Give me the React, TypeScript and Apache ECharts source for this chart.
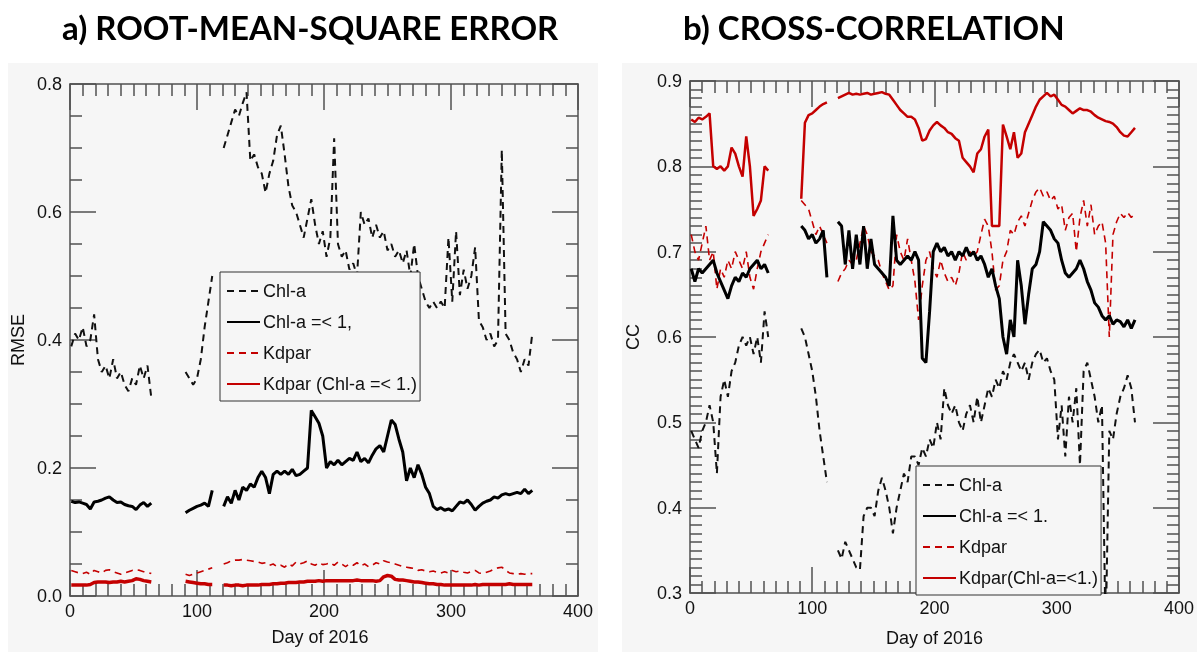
import React, { useEffect, useRef } from "react";
import * as echarts from "echarts";

// Day-of-year sample positions for the three data segments
const seg1Days = [1, 4, 7, 10, 13, 16, 19, 22, 25, 28, 31, 34, 37, 40, 43, 46, 49, 52, 55, 58, 61, 64];
const seg2Days = [91, 94, 97, 100, 103, 106, 109, 112];
const seg3Days = [
  121, 124, 127, 130, 133, 136, 139, 142, 145, 148,
  151, 154, 157, 160, 163, 166, 169, 172, 175, 178,
  181, 184, 187, 190, 193, 196, 199, 202, 205, 208,
  211, 214, 217, 220, 223, 226, 229, 232, 235, 238,
  241, 244, 247, 250, 253, 256, 259, 262, 265, 268,
  271, 274, 277, 280, 283, 286, 289, 292, 295, 298,
  301, 304, 307, 310, 313, 316, 319, 322, 325, 328,
  331, 334, 337, 340, 343, 346, 349, 352, 355, 358,
  361, 364,
];

// ---- a) RMSE ----
const rmseChlA1 = [0.39, 0.41, 0.40, 0.42, 0.39, 0.40, 0.44, 0.37, 0.35, 0.36, 0.34, 0.37, 0.34, 0.35, 0.33, 0.32, 0.34, 0.33, 0.36, 0.34, 0.36, 0.31];
const rmseChlA2 = [0.35, 0.34, 0.33, 0.34, 0.37, 0.42, 0.46, 0.50];
const rmseChlA3 = [
  0.70, 0.72, 0.74, 0.76, 0.75, 0.77, 0.787, 0.68, 0.69, 0.67,
  0.66, 0.63, 0.66, 0.68, 0.72, 0.735, 0.69, 0.64, 0.61, 0.60,
  0.58, 0.56, 0.59, 0.62, 0.58, 0.55, 0.57, 0.53, 0.56, 0.715,
  0.55, 0.53, 0.54, 0.51, 0.52, 0.50, 0.60, 0.58, 0.59, 0.56,
  0.58, 0.56, 0.57, 0.54, 0.55, 0.53, 0.54, 0.52, 0.54, 0.50,
  0.55, 0.50, 0.48, 0.46, 0.45, 0.46, 0.45, 0.46, 0.45, 0.56,
  0.46, 0.57, 0.47, 0.51, 0.48, 0.50, 0.545, 0.43, 0.42, 0.40,
  0.41, 0.39, 0.40, 0.697, 0.41, 0.40, 0.38, 0.37, 0.35, 0.37,
  0.36, 0.41,
];
const rmseChlLow1 = [0.148, 0.146, 0.147, 0.145, 0.143, 0.136, 0.147, 0.148, 0.150, 0.153, 0.155, 0.150, 0.146, 0.147, 0.143, 0.141, 0.140, 0.135, 0.142, 0.146, 0.140, 0.145];
const rmseChlLow2 = [0.130, 0.134, 0.137, 0.140, 0.142, 0.145, 0.140, 0.165];
const rmseChlLow3 = [
  0.140, 0.155, 0.145, 0.165, 0.150, 0.170, 0.165, 0.175, 0.170, 0.185,
  0.195, 0.185, 0.160, 0.190, 0.195, 0.190, 0.195, 0.190, 0.198, 0.188,
  0.190, 0.195, 0.200, 0.290, 0.280, 0.270, 0.250, 0.200, 0.210, 0.205,
  0.212, 0.205, 0.210, 0.215, 0.212, 0.225, 0.210, 0.215, 0.208, 0.220,
  0.230, 0.235, 0.225, 0.250, 0.275, 0.268, 0.245, 0.225, 0.180, 0.200,
  0.185, 0.205, 0.190, 0.170, 0.160, 0.140, 0.135, 0.138, 0.134, 0.136,
  0.133, 0.140, 0.147, 0.145, 0.150, 0.143, 0.134, 0.140, 0.145, 0.148,
  0.150, 0.155, 0.153, 0.158, 0.160, 0.158, 0.160, 0.162, 0.160, 0.167,
  0.160, 0.165,
];
const rmseKd1 = [0.040, 0.038, 0.036, 0.035, 0.037, 0.034, 0.040, 0.038, 0.036, 0.040, 0.041, 0.038, 0.036, 0.034, 0.036, 0.038, 0.040, 0.041, 0.040, 0.038, 0.037, 0.035];
const rmseKd2 = [0.034, 0.032, 0.034, 0.036, 0.038, 0.040, 0.042, 0.044];
const rmseKd3 = [
  0.050, 0.052, 0.055, 0.056, 0.056, 0.057, 0.056, 0.055, 0.054, 0.053,
  0.051, 0.052, 0.048, 0.050, 0.046, 0.048, 0.045, 0.050, 0.047, 0.053,
  0.050, 0.052, 0.055, 0.050, 0.048, 0.052, 0.049, 0.050, 0.052, 0.048,
  0.053, 0.050, 0.046, 0.050, 0.048, 0.052, 0.047, 0.050, 0.046, 0.048,
  0.052, 0.050, 0.055, 0.053, 0.052, 0.050, 0.048, 0.046, 0.045, 0.044,
  0.043, 0.040, 0.041, 0.039, 0.038, 0.039, 0.037, 0.036, 0.038, 0.036,
  0.040, 0.038, 0.039, 0.037, 0.036, 0.038, 0.040, 0.036, 0.035, 0.037,
  0.039, 0.042, 0.044, 0.045, 0.040, 0.036, 0.035, 0.034, 0.035, 0.034,
  0.035, 0.035,
];
const rmseKdLow1 = [0.017, 0.017, 0.017, 0.017, 0.017, 0.018, 0.021, 0.022, 0.022, 0.022, 0.021, 0.022, 0.022, 0.023, 0.022, 0.023, 0.024, 0.027, 0.026, 0.024, 0.023, 0.022];
const rmseKdLow2 = [0.023, 0.022, 0.021, 0.020, 0.019, 0.019, 0.018, 0.018];
const rmseKdLow3 = [
  0.017, 0.017, 0.016, 0.017, 0.017, 0.016, 0.017, 0.017, 0.017, 0.017,
  0.018, 0.018, 0.018, 0.019, 0.019, 0.020, 0.020, 0.021, 0.021, 0.021,
  0.022, 0.022, 0.023, 0.023, 0.023, 0.024, 0.023, 0.024, 0.024, 0.024,
  0.024, 0.024, 0.024, 0.024, 0.024, 0.025, 0.024, 0.024, 0.024, 0.024,
  0.023, 0.024, 0.030, 0.032, 0.031, 0.026, 0.025, 0.025, 0.024, 0.023,
  0.022, 0.022, 0.021, 0.020, 0.019, 0.019, 0.018, 0.018, 0.017, 0.017,
  0.017, 0.017, 0.017, 0.017, 0.017, 0.017, 0.018, 0.017, 0.018, 0.018,
  0.018, 0.018, 0.018, 0.018, 0.018, 0.019, 0.018, 0.018, 0.018, 0.018,
  0.018, 0.018,
];

// ---- b) CC ----
const ccChlA1 = [0.49, 0.48, 0.47, 0.49, 0.50, 0.52, 0.50, 0.44, 0.53, 0.55, 0.53, 0.56, 0.57, 0.59, 0.60, 0.59, 0.60, 0.58, 0.60, 0.57, 0.63, 0.60];
const ccChlA2 = [0.61, 0.60, 0.58, 0.56, 0.53, 0.49, 0.46, 0.43];
const ccChlA3 = [
  0.35, 0.34, 0.36, 0.35, 0.34, 0.33, 0.327, 0.39, 0.40, 0.40,
  0.39, 0.42, 0.435, 0.42, 0.40, 0.37, 0.40, 0.42, 0.44, 0.43,
  0.46, 0.46, 0.45, 0.47, 0.46, 0.48, 0.47, 0.50, 0.48, 0.54,
  0.52, 0.51, 0.52, 0.50, 0.49, 0.51, 0.52, 0.50, 0.53, 0.50,
  0.52, 0.54, 0.53, 0.55, 0.54, 0.56, 0.55, 0.57, 0.58, 0.57,
  0.56, 0.57, 0.55, 0.57, 0.58, 0.585, 0.57, 0.575, 0.56, 0.55,
  0.48, 0.52, 0.46, 0.53, 0.50, 0.54, 0.45, 0.56, 0.57, 0.55,
  0.53, 0.50, 0.52, 0.25, 0.49, 0.48, 0.51, 0.53, 0.54, 0.555,
  0.54, 0.50,
];
const ccChlLow1 = [0.68, 0.665, 0.68, 0.675, 0.68, 0.685, 0.69, 0.675, 0.665, 0.655, 0.645, 0.66, 0.67, 0.665, 0.675, 0.67, 0.68, 0.685, 0.69, 0.68, 0.685, 0.675];
const ccChlLow2 = [0.73, 0.725, 0.715, 0.72, 0.71, 0.715, 0.725, 0.67];
const ccChlLow3 = [
  0.735, 0.73, 0.685, 0.725, 0.68, 0.72, 0.685, 0.73, 0.68, 0.715,
  0.685, 0.68, 0.675, 0.67, 0.66, 0.742, 0.69, 0.685, 0.69, 0.695,
  0.69, 0.70, 0.69, 0.575, 0.57, 0.63, 0.70, 0.71, 0.70, 0.705,
  0.695, 0.70, 0.69, 0.70, 0.695, 0.705, 0.695, 0.70, 0.69, 0.695,
  0.685, 0.67, 0.68, 0.66, 0.645, 0.60, 0.58, 0.62, 0.60, 0.69,
  0.66, 0.615, 0.65, 0.68, 0.685, 0.70, 0.735, 0.73, 0.725, 0.715,
  0.71, 0.69, 0.675, 0.67, 0.675, 0.68, 0.69, 0.68, 0.665, 0.655,
  0.64, 0.635, 0.625, 0.62, 0.625, 0.615, 0.62, 0.618, 0.612, 0.62,
  0.61, 0.62,
];
const ccKd1 = [0.72, 0.70, 0.69, 0.71, 0.73, 0.69, 0.70, 0.656, 0.68, 0.67, 0.69, 0.68, 0.70, 0.69, 0.68, 0.70, 0.67, 0.656, 0.68, 0.70, 0.71, 0.72];
const ccKd2 = [0.76, 0.755, 0.75, 0.735, 0.72, 0.73, 0.72, 0.71];
const ccKd3 = [
  0.665, 0.675, 0.68, 0.69, 0.685, 0.69, 0.71, 0.73, 0.72, 0.70,
  0.695, 0.69, 0.675, 0.665, 0.655, 0.66, 0.72, 0.70, 0.69, 0.715,
  0.69, 0.665, 0.62, 0.66, 0.69, 0.70, 0.68, 0.67, 0.69, 0.675,
  0.665, 0.67, 0.66, 0.675, 0.70, 0.69, 0.70, 0.695, 0.70, 0.72,
  0.738, 0.73, 0.70, 0.655, 0.66, 0.69, 0.70, 0.725, 0.72, 0.735,
  0.742, 0.73, 0.745, 0.76, 0.77, 0.775, 0.765, 0.77, 0.76, 0.765,
  0.75, 0.755, 0.725, 0.74, 0.745, 0.70, 0.74, 0.76, 0.73, 0.755,
  0.72, 0.73, 0.735, 0.71, 0.60, 0.72, 0.735, 0.745, 0.74, 0.746,
  0.74, 0.745,
];
const ccKdLow1 = [0.855, 0.852, 0.857, 0.855, 0.858, 0.862, 0.80, 0.797, 0.80, 0.795, 0.80, 0.822, 0.815, 0.80, 0.788, 0.835, 0.80, 0.742, 0.75, 0.76, 0.80, 0.795];
const ccKdLow2 = [0.762, 0.851, 0.86, 0.862, 0.866, 0.87, 0.873, 0.875];
const ccKdLow3 = [
  0.88, 0.882, 0.884, 0.886, 0.884, 0.885, 0.884, 0.885, 0.886, 0.884,
  0.885, 0.886, 0.887, 0.885, 0.884, 0.878, 0.872, 0.866, 0.862, 0.858,
  0.858, 0.855, 0.845, 0.83, 0.832, 0.842, 0.848, 0.852, 0.848, 0.845,
  0.84, 0.838, 0.833, 0.83, 0.81, 0.805, 0.80, 0.793, 0.815, 0.82,
  0.835, 0.843, 0.73, 0.73, 0.73, 0.849, 0.835, 0.82, 0.84, 0.81,
  0.815, 0.84, 0.85, 0.86, 0.87, 0.878, 0.882, 0.886, 0.882, 0.884,
  0.878, 0.872, 0.87, 0.866, 0.862, 0.865, 0.868, 0.866, 0.866, 0.864,
  0.86, 0.857, 0.855, 0.853, 0.852, 0.85, 0.846, 0.84, 0.836, 0.835,
  0.84, 0.845,
];

const titles = ["a) ROOT-MEAN-SQUARE ERROR", "b) CROSS-CORRELATION"];
const leftNames = ["Chl-a", "Chl-a =< 1,", "Kdpar", "Kdpar (Chl-a =< 1.)"];
const rightNames = ["Chl-a", "Chl-a =< 1.", "Kdpar", "Kdpar(Chl-a=<1.)"];
const xName = "Day of 2016";
const yNames = ["RMSE", "CC"];

const FONT = '"Liberation Sans Narrow", "Liberation Sans", Arial, sans-serif';
const AX = "#505050";
const RED = "#c40000";
const PANEL = "#f6f6f6";

function pairs(days: number[], vals: number[]) {
  return days.map((d, i) => [d, vals[i]]);
}

// one line series per data segment (the record has gaps between them)
function segSeries(name: string, s1: number[], s2: number[], s3: number[], xi: number, yi: number, color: string, width: number, dashed: boolean): any[] {
  const segs = [pairs(seg1Days, s1), pairs(seg2Days, s2), pairs(seg3Days, s3)];
  return segs.map((data) => ({
    type: "line", name, data, xAxisIndex: xi, yAxisIndex: yi,
    showSymbol: false, symbol: "none",
    lineStyle: { color, width, type: dashed ? [7, 5] : "solid" },
    itemStyle: { color },
  }));
}

function full(minor: number): any {
  return {
    type: "value",
    axisLine: { show: true, onZero: false, lineStyle: { color: AX, width: 1.5 } },
    axisTick: { show: true, inside: true, length: 26, lineStyle: { color: AX, width: 1.5 } },
    minorTick: { show: true, splitNumber: minor, length: 12, lineStyle: { color: AX, width: 1.5 } },
    splitLine: { show: false }, minorSplitLine: { show: false },
  };
}
const xLabel = { show: true, fontSize: 18, fontFamily: FONT, color: "#111", margin: 6 };
const yLabel = { show: true, fontSize: 18, fontFamily: FONT, color: "#111", margin: 8, formatter: (v: number) => v.toFixed(1) };
const noLabel = { show: false };
const nameStyle = { fontSize: 18, fontFamily: FONT, color: "#111" };

function legendOf(names: string[], left: number, top: number): any {
  return {
    data: names, orient: "vertical", left, top, itemWidth: 33, itemHeight: 14, itemGap: 13,
    padding: [10, 3, 8, 6], borderColor: "#333", borderWidth: 1, backgroundColor: PANEL,
    selectedMode: false, itemStyle: { opacity: 0 },
    textStyle: { fontSize: 18, fontFamily: FONT, color: "#111", padding: [0, 0, 0, -2] },
  };
}

export default function App() {
  const ref = useRef<HTMLDivElement>(null);
  useEffect(() => {
    if (!ref.current) return;
    const chart = echarts.init(ref.current, undefined, { renderer: "svg" });
    chart.setOption({
      animation: false,
      graphic: {
        elements: [
          { type: "rect", z: -10, silent: true, shape: { x: 8, y: 63, width: 590, height: 589 }, style: { fill: PANEL } },
          { type: "rect", z: -10, silent: true, shape: { x: 622, y: 63, width: 575, height: 589 }, style: { fill: PANEL } },
          { type: "text", x: 18, y: 340, rotation: Math.PI / 2, style: { text: yNames[0], fontSize: 18, fontFamily: FONT, fill: "#111", align: "center", verticalAlign: "middle" } },
          { type: "text", x: 320, y: 637, style: { text: xName, fontSize: 18, fontFamily: FONT, fill: "#111", align: "center", verticalAlign: "middle" } },
        ],
      },
      title: [
        { text: titles[0], left: 62, top: 10, padding: 0, textStyle: { fontSize: 33, fontWeight: "bold", fontFamily: "Lato, 'Open Sans', sans-serif", color: "#000" } },
        { text: titles[1], left: 683, top: 10, padding: 0, textStyle: { fontSize: 33, fontWeight: "bold", fontFamily: "Lato, 'Open Sans', sans-serif", color: "#000" } },
      ],
      legend: [legendOf(leftNames, 220, 272), legendOf(rightNames, 916, 466)],
      grid: [
        { left: 70, top: 84, width: 508, height: 512 },
        { left: 690, top: 81, width: 500, height: 515 },
      ],
      xAxis: [
        { ...full(10), gridIndex: 0, position: "bottom", min: 0, max: 400, interval: 100, axisLabel: xLabel },
        { ...full(10), gridIndex: 0, position: "top", min: 0, max: 400, interval: 100, axisLabel: noLabel },
        { ...full(10), gridIndex: 1, position: "bottom", min: 0, max: 400, interval: 100, axisLabel: xLabel,
          name: xName, nameLocation: "middle", nameGap: 36, nameTextStyle: nameStyle },
        { ...full(10), gridIndex: 1, position: "top", min: 0, max: 400, interval: 100, axisLabel: noLabel },
      ],
      yAxis: [
        { ...full(4), gridIndex: 0, position: "left", min: 0, max: 0.8, interval: 0.2, axisLabel: yLabel },
        { ...full(4), gridIndex: 0, position: "right", min: 0, max: 0.8, interval: 0.2, axisLabel: noLabel },
        { ...full(10), gridIndex: 1, position: "left", min: 0.3, max: 0.9, interval: 0.1, axisLabel: yLabel,
          name: yNames[1], nameLocation: "middle", nameGap: 48, nameRotate: 90, nameTextStyle: nameStyle },
        { ...full(10), gridIndex: 1, position: "right", min: 0.3, max: 0.9, interval: 0.1, axisLabel: noLabel },
      ],
      series: [
        ...segSeries(leftNames[0], rmseChlA1, rmseChlA2, rmseChlA3, 0, 0, "#111", 2, true),
        ...segSeries(leftNames[2], rmseKd1, rmseKd2, rmseKd3, 0, 0, RED, 1.6, true),
        ...segSeries(leftNames[1], rmseChlLow1, rmseChlLow2, rmseChlLow3, 0, 0, "#000", 3, false),
        ...segSeries(leftNames[3], rmseKdLow1, rmseKdLow2, rmseKdLow3, 0, 0, RED, 3.5, false),
        ...segSeries(rightNames[0], ccChlA1, ccChlA2, ccChlA3, 2, 2, "#111", 2, true),
        ...segSeries(rightNames[2], ccKd1, ccKd2, ccKd3, 2, 2, RED, 1.6, true),
        ...segSeries(rightNames[1], ccChlLow1, ccChlLow2, ccChlLow3, 2, 2, "#000", 3, false),
        ...segSeries(rightNames[3], ccKdLow1, ccKdLow2, ccKdLow3, 2, 2, RED, 2.5, false),
      ],
    });
    return () => chart.dispose();
  }, []);
  return <div ref={ref} style={{ position: "fixed", left: 0, top: 0, width: 1197, height: 652 }} />;
}
